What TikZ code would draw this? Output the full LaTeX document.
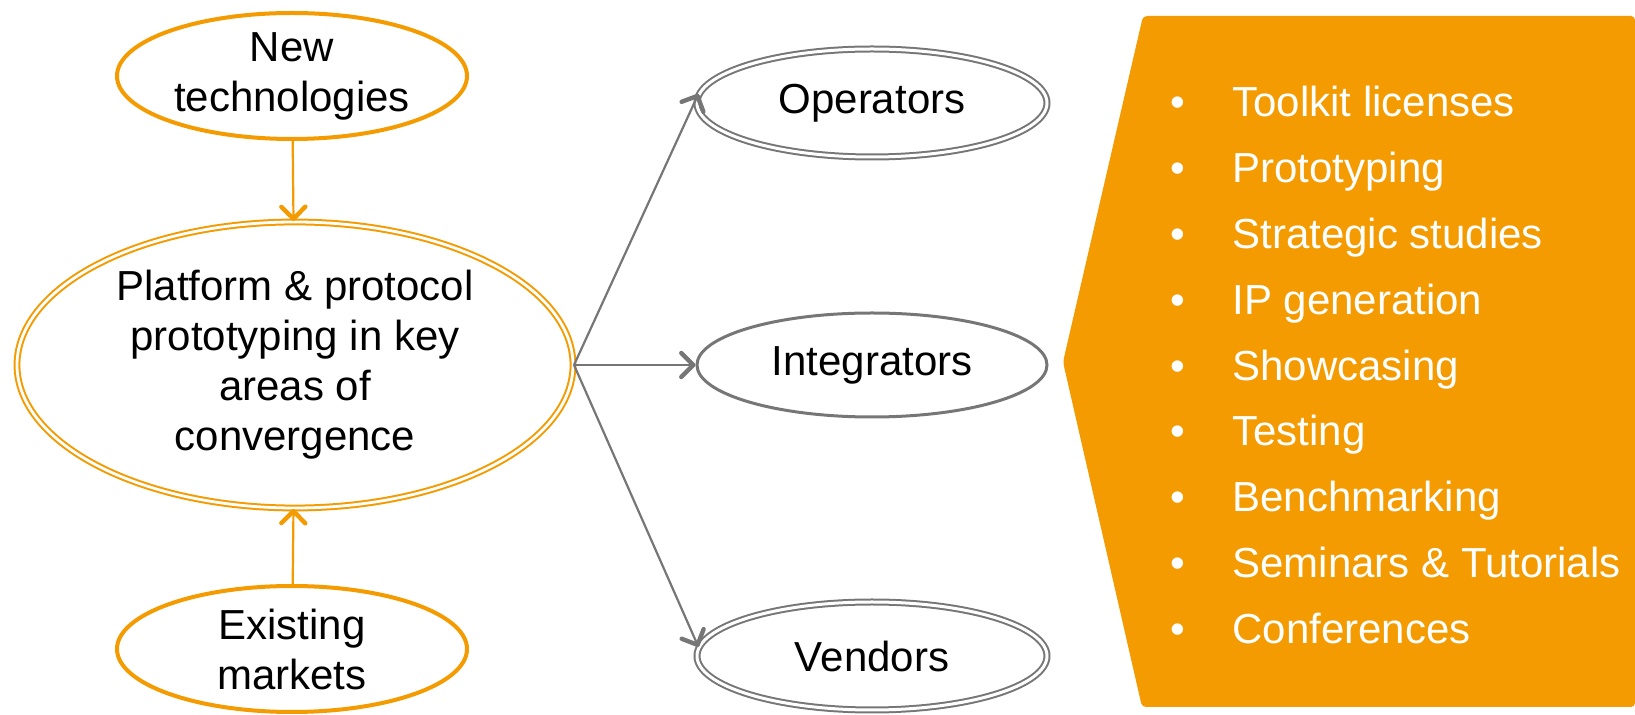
\documentclass[tikz,border=0pt]{standalone}
\usepackage{fontspec}
\setmainfont{Liberation Sans}
\usepackage{xcolor}
\usepackage{tikz}
\usetikzlibrary{shapes.geometric,arrows.meta,positioning}

\definecolor{bdorange}{RGB}{243,155,0}
\definecolor{bdgrey}{RGB}{118,118,118}

\begin{document}
\begin{tikzpicture}[x=0.5pt,y=-0.5pt,>={Straight Barb[round,length=6pt,width=12pt,line width=2.2pt]},
    font=\fontsize{21}{25}\selectfont,
    source/.style={ellipse,draw=bdorange,line width=2pt,inner sep=-6pt,align=center,minimum width=175pt,minimum height=63pt},
    core/.style={ellipse,draw=bdorange,double,double distance=1.4pt,line width=1pt,inner sep=-4pt,align=center,minimum width=278pt,minimum height=143pt},
    party/.style={ellipse,draw=bdgrey,double,double distance=1.5pt,line width=1pt,inner sep=0pt,minimum width=175pt,minimum height=54pt},
    item/.style={anchor=base west,text=white,inner sep=0pt}]

    \useasboundingbox (0,0) rectangle (1635,715);

    % The offer
    \fill[bdorange,rounded corners=2pt] (1143,16) -- (1635,16) -- (1635,707) -- (1142,707) -- (1063,362) -- cycle;

    % The graph
    \node [source] at (292,76) (newtech) {New\\technologies};
    \node [core] at (295,365) (core) {Platform \& protocol\\prototyping in key\\areas of\\convergence};
    \node [source] at (292,649) (existing) {Existing\\markets};
    \node [party] at (872,103) (operators) {Operators};
    \node [party,double=none,line width=1.5pt,minimum height=52pt] at (872,365) (integrators) {Integrators};
    \node [party] at (872,656) (vendors) {Vendors};

    % Graph edges
    \path[->,bdorange,line width=1.1pt]
    (newtech) edge (core)
    (existing) edge (core)
    ;
    \path[->,bdgrey,line width=1.1pt]
    (core.east) edge (operators.177)
    (core.east) edge (integrators.west)
    (core.east) edge (vendors.177)
    ;

    % The list
    \node [item] at (1170,117) (toolkit) {\makebox[31pt][l]{•}Toolkit licenses};
    \node [item] at (1170,183) (proto) {\makebox[31pt][l]{•}Prototyping};
    \node [item] at (1170,249) (studies) {\makebox[31pt][l]{•}Strategic studies};
    \node [item] at (1170,315) (ipgen) {\makebox[31pt][l]{•}IP generation};
    \node [item] at (1170,381) (show) {\makebox[31pt][l]{•}Showcasing};
    \node [item] at (1170,446) (testing) {\makebox[31pt][l]{•}Testing};
    \node [item] at (1170,512) (bench) {\makebox[31pt][l]{•}Benchmarking};
    \node [item] at (1170,578) (seminars) {\makebox[31pt][l]{•}Seminars \& Tutorials};
    \node [item] at (1170,644) (conf) {\makebox[31pt][l]{•}Conferences};

\end{tikzpicture}
\end{document}
